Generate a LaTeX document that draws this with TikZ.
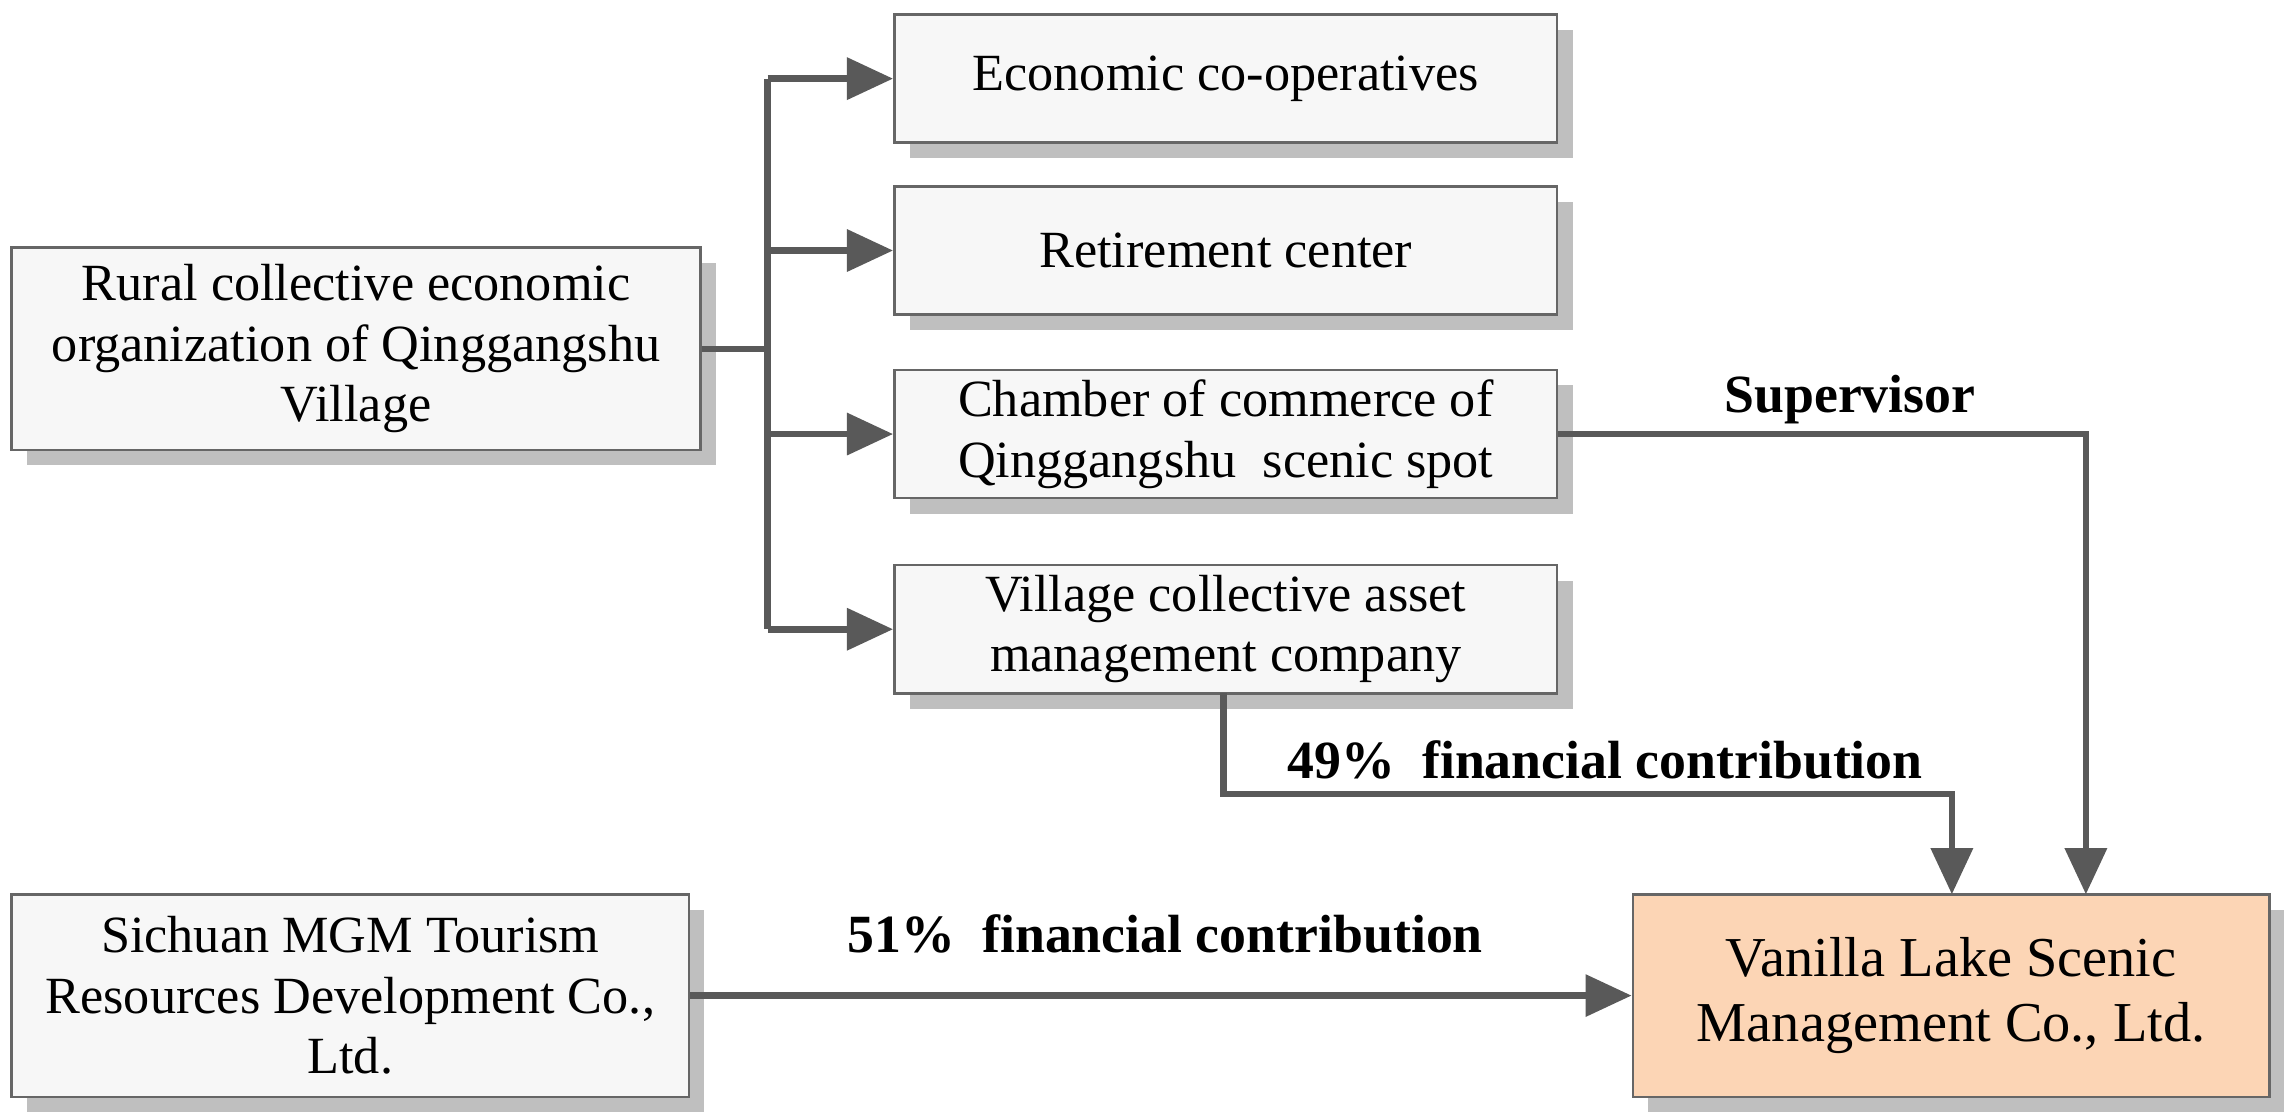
\documentclass[tikz,border=0pt]{standalone}
\usepackage{fontspec}
\setmainfont{Liberation Serif}
\usetikzlibrary{arrows.meta,shadows}
\begin{document}
\begin{tikzpicture}[x=0.01cm,y=-0.01cm,
  box/.style={draw=black!60,line width=0.5pt,fill=black!3,align=center,inner sep=0pt,
     font=\fontsize{10.2}{11.8}\selectfont,
     drop shadow={shadow xshift=3pt,shadow yshift=-3pt,fill=black!25,opacity=1}},
  con/.style={draw=black!65,line width=1.3pt},
  arr/.style={con,-{Triangle[length=9pt,width=8pt]}},
  lab/.style={font=\bfseries\fontsize{10.5}{12}\selectfont}]
\useasboundingbox (0,0) rectangle (1568,765);
\node[box,minimum width=473*0.01cm,minimum height=139*0.01cm] (rural) at (244.5,239.5) {Rural collective economic\\organization of Qinggangshu\\Village};
\node[box,minimum width=455*0.01cm,minimum height=88*0.01cm] (eco) at (841.5,54) {Economic co-operatives};
\node[box,minimum width=455*0.01cm,minimum height=88*0.01cm] (ret) at (841.5,172) {Retirement center};
\node[box,minimum width=455*0.01cm,minimum height=88*0.01cm] (cha) at (841.5,298) {Chamber of commerce of\\Qinggangshu\ \ scenic spot};
\node[box,minimum width=455*0.01cm,minimum height=88*0.01cm] (vil) at (841.5,432) {Village collective asset\\management company};
\node[box,minimum width=465*0.01cm,minimum height=139*0.01cm] (sic) at (240.5,683.5) {Sichuan MGM Tourism\\Resources Development Co.,\\Ltd.};
\node[box,fill={rgb,255:red,252;green,213;blue,181},minimum width=437*0.01cm,minimum height=139*0.01cm,font=\fontsize{11}{12.8}\selectfont] (van) at (1339.5,683.5) {Vanilla Lake Scenic\\Management Co., Ltd.};
\coordinate (j) at (527,239.5);
\draw[con] (rural.east) -- (j);
\draw[con] (527,54) -- (527,432);
\draw[arr] (527,54) -- (eco.west);
\draw[arr] (527,172) -- (ret.west);
\draw[arr] (527,298) -- (cha.west);
\draw[arr] (527,432) -- (vil.west);
\draw[arr] (cha.east) -- (1432,298) -- (1432,614);
\draw[arr] (840,476) -- (840,545) -- (1340,545) -- (1340,614);
\draw[arr] (sic.east) -- (van.west);
\node[lab] (l1) at (1270,274) {Supervisor};
\node[lab] (l2) at (1102,522) {49\%\ \ financial contribution};
\node[lab] (l3) at (800,641) {51\%\ \ financial contribution};
\end{tikzpicture}
\end{document}
